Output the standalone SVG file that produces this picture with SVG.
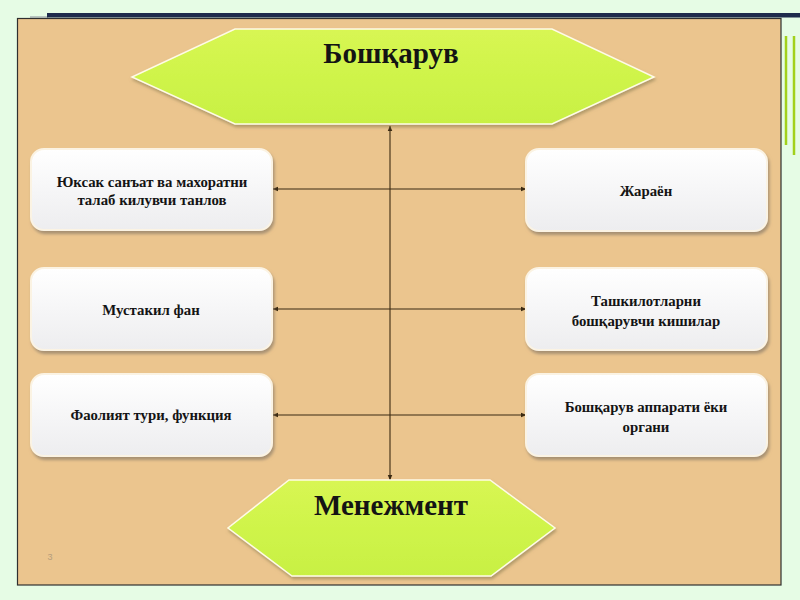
<svg xmlns="http://www.w3.org/2000/svg" width="800" height="600" viewBox="0 0 800 600">
<style>
.box{fill:url(#boxg);stroke:#fbf3e3;stroke-width:2;filter:url(#sh)}
.hex{fill:url(#hexg);stroke:#fffbe6;stroke-width:1.5;filter:url(#sh2)}
.t{font-family:"Liberation Serif","Times New Roman",serif;font-weight:bold;fill:#141414;text-anchor:middle}
.s{font-size:14.8px}
.big{font-size:29px}
.con{stroke:#3b2a12;stroke-width:1.1;fill:none;marker-start:url(#ah);marker-end:url(#ah)}
</style>
<defs>
<linearGradient id="boxg" x1="0" y1="0" x2="0" y2="1">
<stop offset="0" stop-color="#ffffff"/>
<stop offset="1" stop-color="#ededef"/>
</linearGradient>
<linearGradient id="hexg" x1="0" y1="0" x2="0" y2="1">
<stop offset="0" stop-color="#d8f653"/>
<stop offset="0.5" stop-color="#cff44a"/>
<stop offset="1" stop-color="#c8f043"/>
</linearGradient>
<filter id="sh" x="-10%" y="-10%" width="125%" height="130%">
<feDropShadow dx="1.5" dy="3" stdDeviation="1.5" flood-color="#8a7a66" flood-opacity="0.7"/>
</filter>
<filter id="sh2" x="-10%" y="-10%" width="125%" height="130%">
<feDropShadow dx="1" dy="2.5" stdDeviation="1.5" flood-color="#8a7a50" flood-opacity="0.6"/>
</filter>
<marker id="ah" viewBox="0 0 10 10" refX="9" refY="5" markerWidth="6" markerHeight="6" markerUnits="userSpaceOnUse" orient="auto-start-reverse">
<path d="M0,1 L10,5 L0,9 z" fill="#3b2a12"/>
</marker>
</defs>
<rect x="0" y="0" width="800" height="600" fill="#e6fce5"/>
<line x1="30" y1="17" x2="48" y2="17" stroke="#8a8f9a" stroke-width="1"/>
<rect x="47" y="13" width="753" height="4.5" fill="#1e2b4c"/>
<rect x="17.5" y="18.5" width="763.5" height="566.5" fill="#ebc58e" stroke="#2f2f2f" stroke-width="1.2"/>
<line x1="786" y1="36" x2="786" y2="145" stroke="#a2d11c" stroke-width="2.5"/>
<line x1="794" y1="36" x2="794" y2="155" stroke="#a2d11c" stroke-width="2.5"/>

<g id="connectors">
<line class="con" x1="390" y1="126" x2="390" y2="480"/>
<line class="con" x1="273" y1="189" x2="526" y2="189"/>
<line class="con" x1="273" y1="309" x2="526" y2="309"/>
<line class="con" x1="273" y1="415" x2="526" y2="415"/>
</g>

<g id="n-boshqaruv">
<polygon class="hex" points="235,29 552,29 654,77 552,124 235,124 132,77"/>
<text class="t big" x="391" y="63">Бошқарув</text>
</g>
<g id="n-menejment">
<polygon class="hex" points="289,480 490,480 555,528 491,576 292,576 228,528"/>
<text class="t big" x="391" y="515">Менежмент</text>
</g>

<g id="n-yuksak">
<rect class="box" x="31" y="149" width="241" height="81" rx="13"/>
<text class="t s" x="152" y="187">Юксак санъат ва махоратни</text>
<text class="t s" x="152" y="205">талаб килувчи танлов</text>
</g>
<g id="n-mustaqil">
<rect class="box" x="31" y="268" width="241" height="82" rx="13"/>
<text class="t s" x="151" y="315">Мустакил фан</text>
</g>
<g id="n-faoliyat">
<rect class="box" x="31" y="374" width="241" height="82" rx="13"/>
<text class="t s" x="151" y="420">Фаолият тури, функция</text>
</g>
<g id="n-jarayon">
<rect class="box" x="526" y="149" width="241" height="82" rx="13"/>
<text class="t s" x="646" y="196">Жараён</text>
</g>
<g id="n-tashkilot">
<rect class="box" x="526" y="268" width="241" height="82" rx="13"/>
<text class="t s" x="646" y="306">Ташкилотларни</text>
<text class="t s" x="646" y="326">бошқарувчи кишилар</text>
</g>
<g id="n-apparat">
<rect class="box" x="526" y="374" width="241" height="82" rx="13"/>
<text class="t s" x="646" y="412">Бошқарув аппарати ёки</text>
<text class="t s" x="646" y="432">органи</text>
</g>
<text x="50" y="560" font-family="Liberation Sans, sans-serif" font-size="9" fill="#b59d7c" text-anchor="middle">3</text>
</svg>
